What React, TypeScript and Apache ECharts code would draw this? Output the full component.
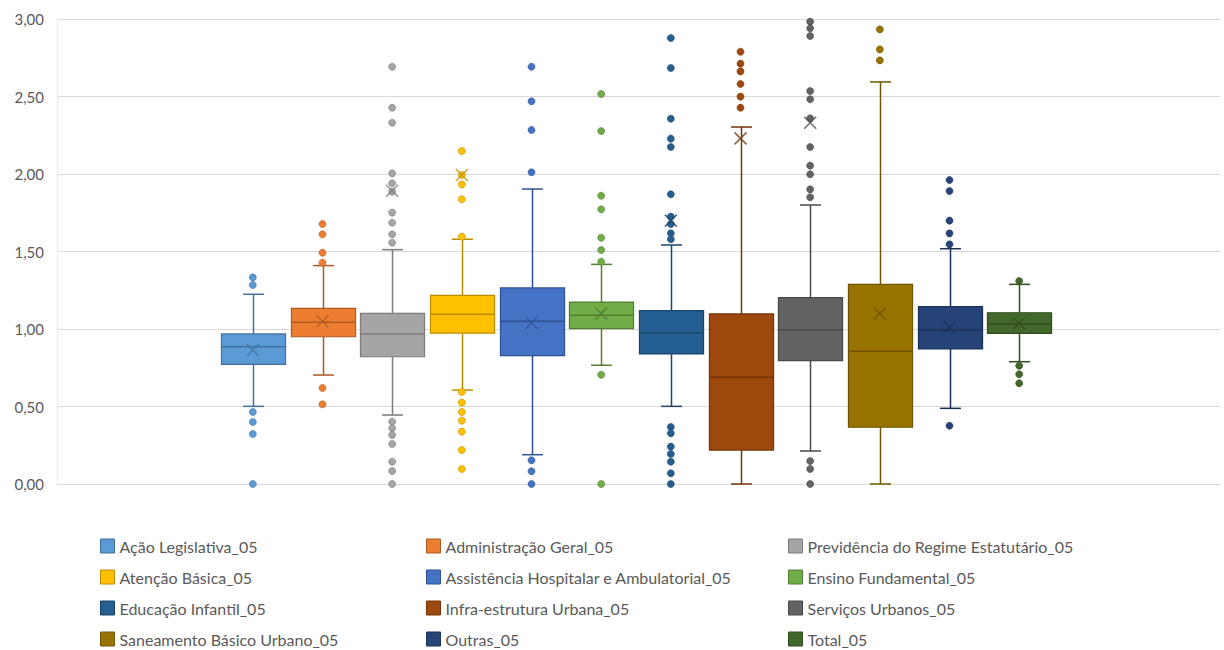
import React, { useEffect, useRef } from "react";
import * as echarts from "echarts";

const categories = [
  "Ação Legislativa_05",
  "Administração Geral_05",
  "Previdência do Regime Estatutário_05",
  "Atenção Básica_05",
  "Assistência Hospitalar e Ambulatorial_05",
  "Ensino Fundamental_05",
  "Educação Infantil_05",
  "Infra-estrutura Urbana_05",
  "Serviços Urbanos_05",
  "Saneamento Básico Urbano_05",
  "Outras_05",
  "Total_05",
];

const fillColors = [
  "#5B9BD5", "#ED7D31", "#A5A5A5", "#FFC000", "#4472C4", "#70AD47",
  "#255E91", "#9E480E", "#636363", "#997300", "#264478", "#43682B",
];
const darkColors = [
  "#41719C", "#AE5A21", "#7C7C7C", "#BC8C00", "#2F528F", "#507E32",
  "#1B4569", "#73340A", "#484848", "#705400", "#1B3158", "#304C1F",
];

// [lower whisker, Q1, median, Q3, upper whisker]
const boxStats = [
  [0.501, 0.772, 0.886, 0.968, 1.224],
  [0.703, 0.95, 1.043, 1.133, 1.409],
  [0.445, 0.821, 0.968, 1.101, 1.512],
  [0.606, 0.974, 1.095, 1.217, 1.579],
  [0.189, 0.828, 1.05, 1.265, 1.903],
  [0.766, 1.002, 1.088, 1.174, 1.417],
  [0.501, 0.839, 0.976, 1.118, 1.542],
  [0.0, 0.219, 0.688, 1.097, 2.303],
  [0.213, 0.796, 0.994, 1.202, 1.8],
  [0.0, 0.366, 0.856, 1.288, 2.594],
  [0.488, 0.871, 0.994, 1.144, 1.518],
  [0.789, 0.972, 1.032, 1.105, 1.288],
];

const means = [0.865, 1.05, 1.892, 1.994, 1.04, 1.101, 1.699, 2.23, 2.331, 1.101, 1.011, 1.037];

const outliers = [
  [1.333, 1.284, 0.465, 0.4, 0.323, 0.0],
  [1.677, 1.611, 1.492, 1.428, 0.619, 0.514],
  [2.692, 2.428, 2.331, 2.004, 1.94, 1.886, 1.751, 1.686, 1.611, 1.557, 0.402, 0.359, 0.316, 0.258, 0.144, 0.084, 0.0],
  [2.148, 1.994, 1.933, 1.837, 1.596, 0.594, 0.525, 0.465, 0.409, 0.338, 0.219, 0.097],
  [2.692, 2.469, 2.284, 2.011, 0.153, 0.082, 0.0],
  [2.516, 2.277, 1.86, 1.772, 1.589, 1.51, 1.434, 0.705, 0.0],
  [2.877, 2.684, 2.357, 2.228, 2.174, 1.869, 1.725, 1.677, 1.617, 1.579, 0.368, 0.327, 0.241, 0.194, 0.144, 0.069, 0.0],
  [2.789, 2.712, 2.662, 2.581, 2.499, 2.428],
  [2.983, 2.94, 2.89, 2.535, 2.482, 2.359, 2.174, 2.054, 1.998, 1.901, 1.85, 0.148, 0.097, 0.0],
  [2.933, 2.804, 2.733],
  [1.961, 1.89, 1.699, 1.617, 1.546, 0.376],
  [1.31, 0.763, 0.708, 0.65],
];

const legendColumns = [
  [0, 3, 6, 9],
  [1, 4, 7, 10],
  [2, 5, 8, 11],
];
const legendLefts = [100, 426, 788];

const FONT = "Lato, 'Open Sans', sans-serif";

export default function App() {
  const ref = useRef<HTMLDivElement>(null);

  useEffect(() => {
    if (!ref.current) return;
    const chart = echarts.init(ref.current, undefined, { renderer: "svg" });

    const boxSeries = {
      type: "custom",
      xAxisIndex: 1,
      yAxisIndex: 1,
      z: 3,
      encode: { x: 0, y: [1, 2, 3, 4, 5] },
      data: boxStats.map((s, i) => [i, ...s]),
      renderItem: (params: any, api: any) => {
        const i = api.value(0);
        const idx = params.dataIndex;
        const lo = api.coord([i, api.value(1)]);
        const q1 = api.coord([i, api.value(2)]);
        const med = api.coord([i, api.value(3)]);
        const q3 = api.coord([i, api.value(4)]);
        const hi = api.coord([i, api.value(5)]);
        const band = api.size([1, 0])[0];
        const bw = band * 0.92;
        const cw = band * 0.3;
        const x = Math.round(lo[0]) + 0.5;
        const stroke = darkColors[idx];
        const ls = { stroke, lineWidth: 1.5 };
        return {
          type: "group",
          children: [
            { type: "line", shape: { x1: x, y1: hi[1], x2: x, y2: q3[1] }, style: ls },
            { type: "line", shape: { x1: x, y1: q1[1], x2: x, y2: lo[1] }, style: ls },
            { type: "line", shape: { x1: x - cw / 2, y1: hi[1], x2: x + cw / 2, y2: hi[1] }, style: ls },
            { type: "line", shape: { x1: x - cw / 2, y1: lo[1], x2: x + cw / 2, y2: lo[1] }, style: ls },
            {
              type: "rect",
              shape: { x: x - bw / 2, y: q3[1], width: bw, height: q1[1] - q3[1] },
              style: { fill: fillColors[idx], stroke, lineWidth: 1.2 },
            },
            { type: "line", shape: { x1: x - bw / 2, y1: med[1], x2: x + bw / 2, y2: med[1] }, style: ls },
          ],
        };
      },
    };

    const outlierSeries = categories.map((name, i) => ({
      type: "scatter",
      name,
      xAxisIndex: 1,
      yAxisIndex: 1,
      z: 5,
      symbol: "circle",
      symbolSize: 7,
      itemStyle: { color: fillColors[i], borderColor: darkColors[i], borderWidth: 0.6, opacity: 1 },
      data: outliers[i].map((v) => [i, v]),
    }));

    const meanSeries = {
      type: "scatter",
      name: "mean",
      xAxisIndex: 1,
      yAxisIndex: 1,
      z: 6,
      symbol: "path://M0,0L10,10M10,0L0,10",
      symbolSize: 12,
      data: means.map((m, i) => ({
        value: [i, m],
        itemStyle: { color: "none", borderColor: darkColors[i], borderWidth: 1.5 },
      })),
    };

    const option: any = {
      animation: false,
      backgroundColor: "#ffffff",
      textStyle: { fontFamily: FONT },
      grid: [
        { left: 57, right: 4, top: 19, bottom: 166 },
        { left: 218, right: 170, top: 19, bottom: 166 },
      ],
      xAxis: [
        { type: "value", gridIndex: 0, min: 0, max: 1, show: false },
        {
          type: "category",
          gridIndex: 1,
          data: categories,
          show: false,
          boundaryGap: true,
        },
      ],
      yAxis: [
        {
          type: "value",
          gridIndex: 0,
          min: 0,
          max: 3,
          interval: 0.5,
          axisLine: { show: true, lineStyle: { color: "#ececec", width: 1 } },
          axisTick: { show: false },
          splitLine: { show: true, lineStyle: { color: "#d9d9d9", width: 1 } },
          axisLabel: {
            color: "#595959",
            fontSize: 15,
            fontFamily: FONT,
            margin: 13,
            formatter: (v: number) => v.toFixed(2).replace(".", ","),
          },
        },
        { type: "value", gridIndex: 1, min: 0, max: 3, show: false },
      ],
      legend: legendColumns.map((col, k) => ({
        orient: "vertical",
        left: legendLefts[k],
        top: 538,
        height: 140,
        padding: 0,
        itemWidth: 14,
        itemHeight: 14,
        itemGap: 15,
        icon: "rect",
        selectedMode: false,
        textStyle: { color: "#595959", fontSize: 16, fontFamily: FONT },
        data: col.map((i) => ({
          name: categories[i],
          itemStyle: { color: fillColors[i], borderColor: darkColors[i], borderWidth: 1 },
        })),
      })),
      series: [boxSeries, ...outlierSeries, meanSeries],
    };

    chart.setOption(option);
    return () => chart.dispose();
  }, []);

  return (
    <div
      ref={ref}
      style={{ position: "fixed", left: 0, top: 0, width: 1224, height: 650, background: "#fff" }}
    />
  );
}
